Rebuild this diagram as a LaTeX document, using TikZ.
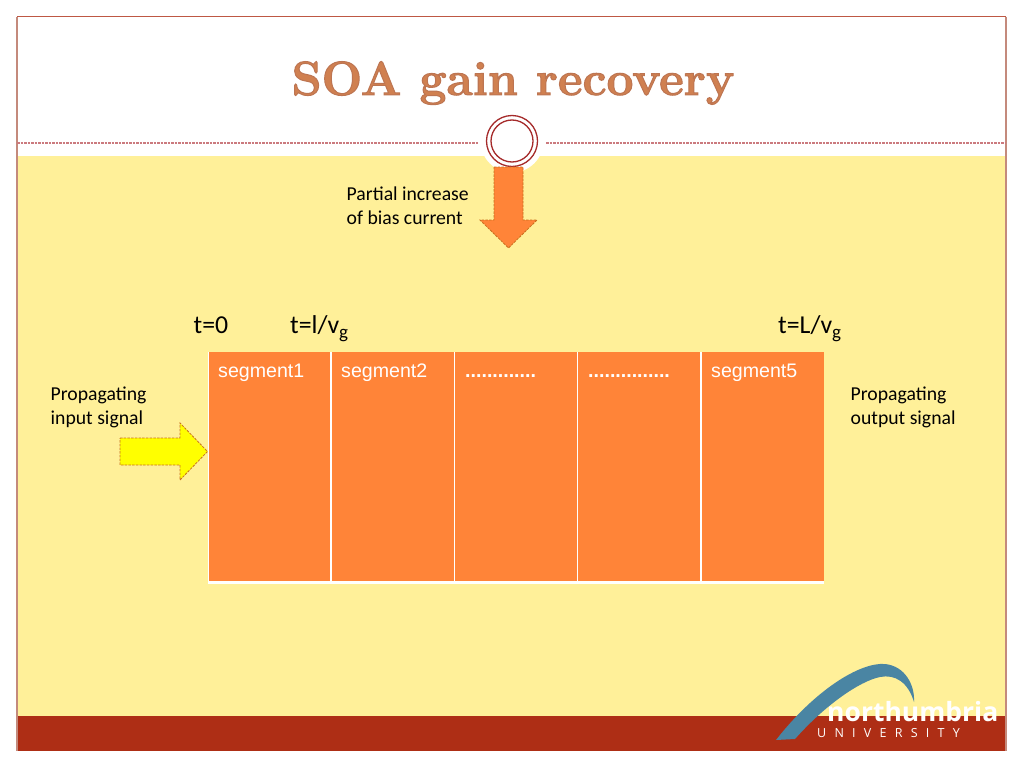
\documentclass[tikz,border=0pt]{standalone}
\usepackage{fontspec}
\usetikzlibrary{calc}
\setmainfont{Carlito}
\newfontfamily\segfont{Liberation Sans}
\newfontfamily\logofont{Open Sans}
\newfontfamily\logowide[LetterSpace=66]{Open Sans}
\newfontfamily\titlefont{Latin Modern Roman}
\definecolor{framered}{HTML}{C48A7C}
\definecolor{dashred}{HTML}{CB7A7E}
\definecolor{ringred}{HTML}{A52A2A}
\definecolor{paleyellow}{HTML}{FFF099}
\definecolor{barred}{HTML}{AE2E15}
\definecolor{segorange}{HTML}{FF8438}
\definecolor{signalyellow}{HTML}{FFFF00}
\definecolor{titleorange}{HTML}{D08050}
\definecolor{arrowedge}{HTML}{C8701E}
\definecolor{swoosh}{HTML}{4A85A3}
\tikzset{
  plaintext/.style={anchor=north west, inner sep=0pt, font=\fontsize{19.7}{24}\selectfont, align=left, text=black},
  timelabel/.style={anchor=base west, inner sep=0pt, font=\fontsize{25.8}{28}\selectfont, text=black},
  segbox/.style={fill=segorange, minimum width=123.2pt, minimum height=229pt, inner sep=0pt, outer sep=0pt, anchor=north west},
  seglabel/.style={anchor=base west, inner sep=0pt, text=white, font=\fontsize{19.6}{22}\segfont},
  segline/.style={white, line width=1.5pt},
  dashline/.style={draw=dashred, line width=1.2pt, dash pattern=on 2.5pt off 1pt},
  fatarrow/.style={draw=arrowedge, line width=0.8pt, dash pattern=on 2.5pt off 1.2pt}
}
\newcommand{\subg}{\lower5pt\hbox{\fontsize{19}{20}\selectfont g}}
% outlined glyphs for the heading
\newcommand{\outlined}[1]{\special{pdf:code 2 Tr 1 w 0.74 0.46 0.32 RG}#1\special{pdf:code 0 Tr}}
\begin{document}
\begin{tikzpicture}[x=1pt, y=-1pt]
  \useasboundingbox (0,0) rectangle (1024,768);
  % Slide panels
  \fill[white] (0,0) rectangle (1024,768);
  \fill[paleyellow] (17,156) rectangle (1006,716);
  \fill[barred] (17,716) rectangle (1006,751);
  \draw[framered, line width=1.5pt] (17,751) -- (17,17);
  \draw[framered, line width=1.5pt] (1006,17) -- (1006,751);
  \draw[barred!80!white, line width=1pt] (17,17) -- (1006,17);
  % Header rule and ring
  \draw[dashline] (17,143) -- (478,143);
  \draw[dashline] (546,143) -- (1006,143);
  \fill[white] (512,141) circle (31.5);
  \node[circle, draw=ringred, fill=white, line width=1.3pt, minimum size=51pt, inner sep=0pt] (ringouter) at (512,141) {};
  \node[circle, draw=ringred, line width=1.3pt, minimum size=42pt, inner sep=0pt] (ringinner) at (ringouter.center) {};
  % Title
  \node[inner sep=0pt, text=titleorange, font=\fontsize{48}{50}\titlefont\bfseries] (title) at (513,83) {\outlined{SOA gain recovery}};
  % Bias current
  \node[plaintext] (biastext) at (346.5,187) {Partial increase\\of bias current};
  \draw[fatarrow, fill=segorange] (494,167) -- (523,167) -- (523,220) -- (537,220) -- (508.5,248) -- (480,220) -- (494,220) -- cycle;
  % Time marks
  \node[timelabel] (tzero) at (193.5,333) {t=0};
  \node[timelabel] (tone) at (290,333) {t=l/v\subg};
  \node[timelabel] (tlast) at (778,333) {t=L/v\subg};
  % Segments
  \node[segbox] (seg1) at (208,352) {};
  \node[segbox] (seg2) at (seg1.north east) {};
  \node[segbox] (seg3) at (seg2.north east) {};
  \node[segbox] (seg4) at (seg3.north east) {};
  \node[segbox] (seg5) at (seg4.north east) {};
  \draw[segline] (seg1.north east) -- (seg1.south east);
  \draw[segline] (seg2.north east) -- (seg2.south east);
  \draw[segline] (seg3.north east) -- (seg3.south east);
  \draw[segline] (seg4.north east) -- (seg4.south east);
  \draw[segline, line width=1pt] (seg1.north west) -- (seg1.south west);
  \draw[segline, line width=3pt] ($(seg1.south west)+(0,1.5)$) -- ($(seg5.south east)+(0,1.5)$);
  \node[seglabel] (name1) at (218,377) {segment1};
  \node[seglabel] (name2) at (341,377) {segment2};
  \node[seglabel] (name3) at (465,377) {\textbf{.............}};
  \node[seglabel] (name4) at (588,377) {\textbf{...............}};
  \node[seglabel] (name5) at (711,377) {segment5};
  % Signals
  \node[plaintext] (intext) at (50.5,387) {Propagating\\input signal};
  \node[plaintext] (outtext) at (850.5,387) {Propagating\\output signal};
  \draw[fatarrow, fill=signalyellow] (120,438) -- (180,438) -- (180,423) -- (207.5,451.5) -- (180,480) -- (180,465) -- (120,465) -- cycle;
  % University logo
  \fill[swoosh] (776,740) .. controls (815,690) and (860,662) .. (885,664)
    .. controls (905,666) and (915,685) .. (914,702)
    .. controls (908,682) and (895,674) .. (880,677)
    .. controls (860,681) and (825,705) .. (795,739) -- cycle;
  \node[anchor=base west, inner sep=0pt, text=white, font=\fontsize{26.5}{28}\logofont\bfseries] (logoname) at (827,721) {northumbria};
  \node[anchor=base west, inner sep=0pt, text=white, font=\fontsize{12.5}{14}\logowide] (logouni) at (817,737) {UNIVERSITY};
\end{tikzpicture}
\end{document}
